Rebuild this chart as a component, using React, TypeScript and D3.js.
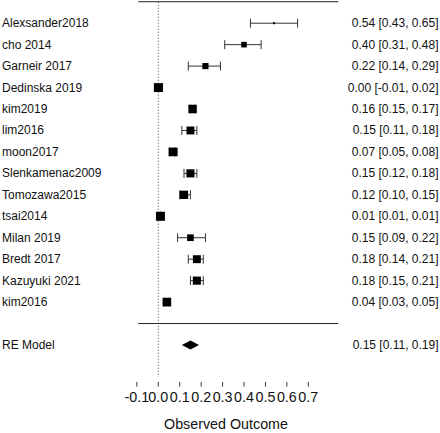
import React from "react";
import * as d3 from "d3";

const studies = [
  "Alexsander2018", "cho 2014", "Garneir 2017", "Dedinska 2019", "kim2019", "lim2016",
  "moon2017", "Slenkamenac2009", "Tomozawa2015", "tsai2014", "Milan 2019", "Bredt 2017",
  "Kazuyuki 2021", "kim2016",
];
const estimates = [0.54, 0.40, 0.22, 0.00, 0.16, 0.15, 0.07, 0.15, 0.12, 0.01, 0.15, 0.18, 0.18, 0.04];
const lower = [0.43, 0.31, 0.14, -0.01, 0.15, 0.11, 0.05, 0.12, 0.10, 0.01, 0.09, 0.14, 0.15, 0.03];
const upper = [0.65, 0.48, 0.29, 0.02, 0.17, 0.18, 0.08, 0.18, 0.15, 0.01, 0.22, 0.21, 0.21, 0.05];
const weights = [4.0, 6.0, 6.3, 7.8, 7.6, 7.3, 7.7, 7.4, 7.5, 7.9, 6.6, 7.3, 7.4, 7.7];
const summaryLabel = "RE Model";
const summary = { est: 0.15, lo: 0.11, hi: 0.19 };
const xTicks = [-0.1, 0.0, 0.1, 0.2, 0.3, 0.4, 0.5, 0.6, 0.7];
const xDomain = [-0.0933, 0.84];
const xTitle = "Observed Outcome";

const W = 440;
const H = 433;
const FONT = "'Liberation Sans', Arial, Helvetica, sans-serif";

const hy = (s: string) => s.replace(/\u2212/g, "-");

export default function App() {
  const x = d3.scaleLinear().domain(xDomain).range([138.3, 338.3]);
  const y = d3.scaleLinear().domain([0, 15]).range([23.2, 345]);
  const size = d3.scaleLinear().domain([d3.min(weights)!, d3.max(weights)!]).range([2, 9]);
  const fmt = (v: number) => hy(d3.format(".2f")(v));
  const capH = 4.5;
  const sy = y(15);
  const dh = 4.5;
  const diamond = `M${x(summary.lo)},${sy} L${x(summary.est)},${sy - dh} L${x(summary.hi)},${sy} L${x(summary.est)},${sy + dh} Z`;

  return (
    <svg width={W} height={H} style={{ position: "absolute", left: 0, top: 0, background: "#fff" }} fontFamily={FONT}>
      <line x1={x(xDomain[0])} x2={x(xDomain[1])} y1={y(-1)} y2={y(-1)} stroke="#222" strokeWidth={1} />
      <line x1={x(xDomain[0])} x2={x(xDomain[1])} y1={y(14)} y2={y(14)} stroke="#222" strokeWidth={1} />
      <line x1={x(0)} x2={x(0)} y1={y(-1)} y2={377} stroke="#444" strokeWidth={1} strokeDasharray="1,2" />
      {studies.map((s, i) => {
        const yy = y(i);
        const sz = size(weights[i]);
        return (
          <g key={s}>
            <text x={2} y={yy} dominantBaseline="central" fontSize={12} fill="#111">{s}</text>
            <line x1={x(lower[i])} x2={x(upper[i])} y1={yy} y2={yy} stroke="#333" strokeWidth={1} />
            <line x1={x(lower[i])} x2={x(lower[i])} y1={yy - capH} y2={yy + capH} stroke="#333" strokeWidth={1} />
            <line x1={x(upper[i])} x2={x(upper[i])} y1={yy - capH} y2={yy + capH} stroke="#333" strokeWidth={1} />
            <rect x={x(estimates[i]) - sz / 2} y={yy - sz / 2} width={sz} height={sz} fill="#000" />
            <text x={438.5} y={yy} dominantBaseline="central" textAnchor="end" fontSize={12} fill="#111">
              {`${fmt(estimates[i])} [${fmt(lower[i])}, ${fmt(upper[i])}]`}
            </text>
          </g>
        );
      })}
      <text x={2} y={sy} dominantBaseline="central" fontSize={12} fill="#111">{summaryLabel}</text>
      <path d={diamond} fill="#000" />
      <text x={438.5} y={sy} dominantBaseline="central" textAnchor="end" fontSize={12} fill="#111">
        {`${fmt(summary.est)} [${fmt(summary.lo)}, ${fmt(summary.hi)}]`}
      </text>
      {xTicks.map((t) => (
        <g key={t}>
          <line x1={x(t)} x2={x(t)} y1={382} y2={386.5} stroke="#333" strokeWidth={1} />
          <text x={x(t)} y={396.5} dominantBaseline="central" textAnchor="middle" fontSize={14.3} fill="#111">
            {hy(d3.format(".1f")(t))}
          </text>
        </g>
      ))}
      <text x={226} y={424} dominantBaseline="central" textAnchor="middle" fontSize={14.3} fill="#111">{xTitle}</text>
    </svg>
  );
}
